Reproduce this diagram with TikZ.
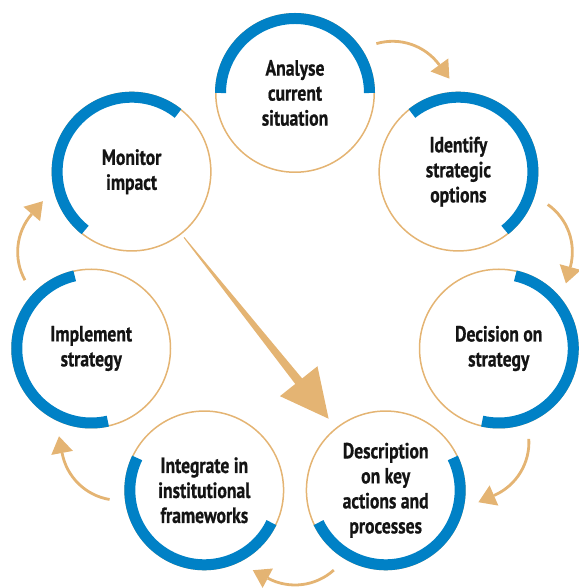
\documentclass[tikz,border=0pt]{standalone}
\usepackage{fontspec}
\setmainfont{PT Sans}[FakeStretch=0.8, BoldFeatures={FakeBold=0.7}]
\usetikzlibrary{calc}
\definecolor{ringblue}{HTML}{0081C6}
\definecolor{ringtan}{HTML}{E4B473}
\definecolor{ink}{HTML}{141414}

\begin{document}
\begin{tikzpicture}[x=1pt,y=1pt,
  stage/.style={circle, draw=ringtan, line width=1.5pt, minimum size=158.5pt,
    inner sep=0pt, align=center, text=ink,
    font=\fontsize{22}{25}\selectfont\bfseries},
  band/.style={draw=ringblue, line width=11pt},
  flow/.style={draw=ringtan, line width=2.8pt},
  ]
\useasboundingbox (0,0) rectangle (578,588);
\coordinate (hub) at (295,286);

% the seven stages, placed on a ring
\foreach \i/\txt in {1/{Analyse\\current\\situation},
                     2/{Identify\\strategic\\options},
                     3/{Decision on\\strategy},
                     4/{Description\\on key\\actions and\\processes},
                     5/{Integrate in\\institutional\\frameworks},
                     6/{Implement\\strategy},
                     7/{Monitor\\impact}} {
  \node[stage] (m\i) at ($(hub)+({90-360/7*(\i-1)}:209)$) {\txt};
}

% thick blue band on the outer half of every stage
\foreach \i in {1,...,7} {
  \pgfmathsetmacro{\a}{90-360/7*(\i-1)}
  \draw[band] ($(m\i)+({\a-90}:74.5)$)
    arc[start angle=\a-90, end angle=\a+90, radius=74.5];
}

% curved arrows from one stage to the next
\foreach \k in {1,...,6} {
  \begin{scope}[shift={(hub)}, rotate={-360/7*(\k-4)}]
    \draw[flow] (38.81,-268.10) arc[start angle=-48, end angle=-118, radius=58];
    \fill[ringtan] (-22.07,-266.50) -- (-32.40,-285.92) -- (-42.18,-268.23) -- cycle;
  \end{scope}
}

% tapered arrow from monitoring back to the key actions
\coordinate (bs) at ($(m7)!84pt!(m4)$);
\coordinate (bt) at ($(m7)!316pt!(m4)$);
\coordinate (bb) at ($(bt)!48pt!(bs)$);
\coordinate (bj) at ($(bt)!44pt!(bs)$);
\fill[ringtan] ($(bs)!0.5pt!90:(bt)$) -- ($(bj)!4.5pt!90:(bt)$)
  -- ($(bj)!4.5pt!-90:(bt)$) -- ($(bs)!0.5pt!-90:(bt)$) -- cycle;
\fill[ringtan] ($(bb)!24pt!90:(bt)$) -- (bt) -- ($(bb)!24pt!-90:(bt)$) -- cycle;
\end{tikzpicture}
\end{document}
